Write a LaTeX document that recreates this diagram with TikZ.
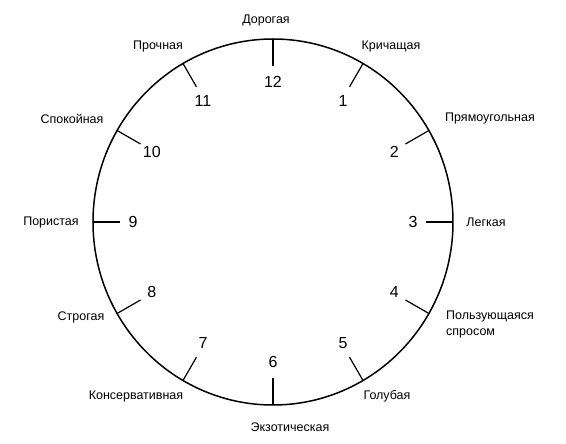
\documentclass[tikz,border=0pt]{standalone}
\usepackage{fontspec}
\setmainfont{Liberation Sans}
\begin{document}
\begin{tikzpicture}[x=1pt, y=1pt,
	lbl/.style={font=\fontsize{12.5}{16}\selectfont, inner sep=0pt},
	num/.style={font=\fontsize{16}{18}\selectfont, inner sep=0pt}]
		
		\useasboundingbox (-273,-222) rectangle (293,222);
		
		\draw[line width=1.5pt] (0,0) ellipse (180 and 183);
		
		%
		\foreach \i [evaluate=\i as \angle using 90-30*\i] in {1,...,12} {
			\coordinate (A\i) at (\angle:180 and 183);
			\coordinate (T\i) at (\angle:153 and 156);
			\node[num] (N\i) at (\angle:140) {\i};
		}
		
		\foreach \i in {1,...,12} {
			\draw[line width=1.2pt] (A\i) -- (T\i);
		}
		
		\node[lbl] (L12) at (-7,201) {Дорогая};
		\node[lbl] (L1) at (118,175) {Кричащая};
		\node[lbl] (L2) at (217,103) {Прямоугольная};
		\node[lbl] (L3) at (213,0) {Легкая};
		\node[lbl, anchor=west, align=left] (L4) at (173,-102) {Пользующаяся\\спросом};
		\node[lbl] (L5) at (114,-174) {Голубая};
		\node[lbl] (L6) at (17,-205) {Экзотическая};
		\node[lbl] (L7) at (-137,-174) {Консервативная};
		\node[lbl] (L8) at (-192,-95) {Строгая};
		\node[lbl] (L9) at (-222,0) {Пористая};
		\node[lbl] (L10) at (-201,103) {Спокойная};
		\node[lbl] (L11) at (-115,175) {Прочная};
		
	\end{tikzpicture}
\end{document}
